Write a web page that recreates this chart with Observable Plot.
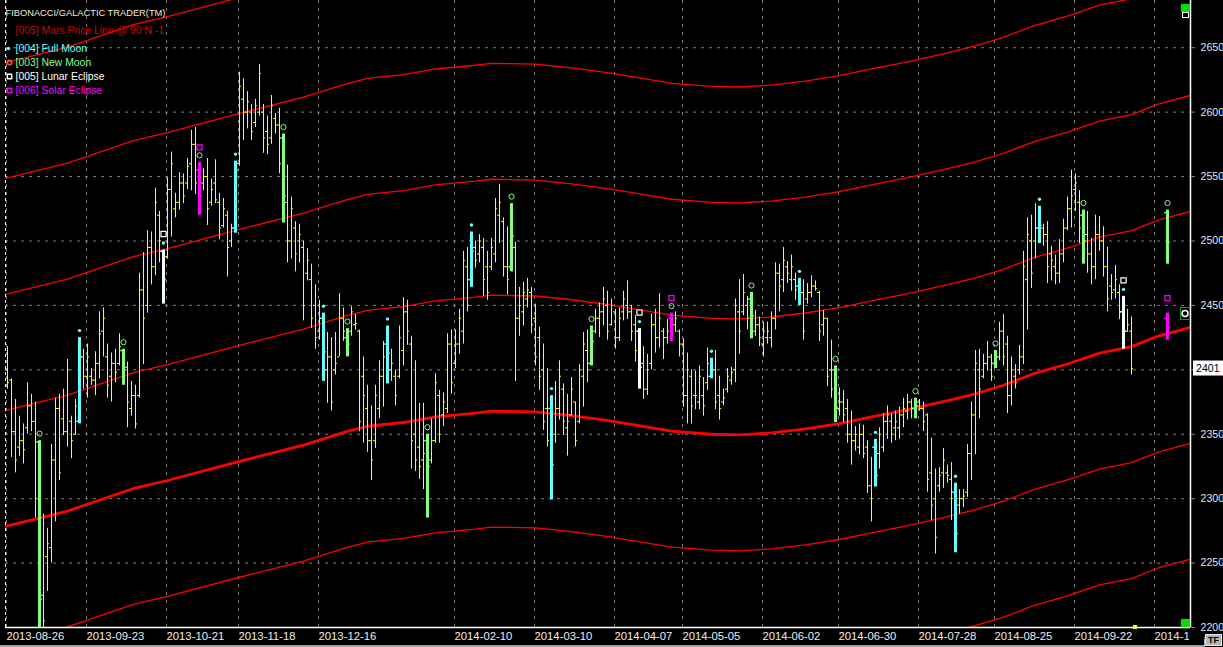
<!DOCTYPE html>
<html><head><meta charset="utf-8">
<script src="https://cdn.jsdelivr.net/npm/d3@7"></script>
<script src="https://cdn.jsdelivr.net/npm/@observablehq/plot@0.6"></script>
<style>
html,body{margin:0;padding:0;background:#000;overflow:hidden}
#wrap{position:relative;width:1223px;height:647px;background:#000}
#tf{position:absolute;left:1205px;top:634px;width:17px;height:12px;background:#b4b4b4;border:1px solid #e8e8e8;box-sizing:border-box;font:bold 9px "Liberation Sans",Arial,sans-serif;color:#000;text-align:center;line-height:10px}
#strip{position:absolute;left:0;top:645px;width:1205px;height:2px;background:#a0a0a0}
</style></head><body><div id="wrap"><div id="strip"></div><div id="tf">TF</div></div>
<script>
// ---- data (daily OHLC, bar index 0 = 2013-08-26) ----
const high = [
2418,2393,2377,2364,2358,2390,2381,2375,2345,2288,
2277,2342,2378,2381,2385,2408,2364,2377,2425,2416,
2420,2401,2414,2445,2448,2420,2413,2416,2428,2416,
2406,2391,2388,2475,2491,2508,2507,2541,2523,2493,
2549,2569,2537,2553,2552,2564,2586,2588,2561,2556,
2564,2548,2563,2537,2533,2523,2513,2562,2631,2626,
2616,2606,2610,2637,2606,2597,2613,2599,2603,2583,
2559,2534,2515,2513,2500,2494,2482,2466,2454,2444,
2429,2425,2429,2459,2448,2432,2449,2443,2431,2410,
2388,2372,2388,2407,2422,2434,2416,2400,2434,2456,
2454,2426,2407,2374,2374,2350,2362,2397,2384,2382,
2428,2431,2431,2447,2492,2495,2507,2500,2505,2502,
2492,2502,2533,2544,2518,2511,2529,2499,2464,2468,
2471,2464,2451,2433,2420,2401,2380,2391,2407,2389,
2381,2394,2375,2404,2429,2431,2434,2447,2452,2464,
2461,2455,2447,2448,2461,2469,2450,2442,2432,2418,
2412,2443,2447,2459,2432,2439,2444,2445,2431,2424,
2413,2400,2399,2403,2394,2417,2409,2415,2395,2385,
2401,2402,2455,2470,2474,2457,2460,2446,2441,2437,
2437,2445,2483,2482,2495,2484,2489,2475,2471,2470,
2467,2473,2469,2461,2446,2440,2423,2403,2386,2384,
2377,2368,2356,2358,2357,2345,2332,2346,2355,2366,
2372,2366,2368,2371,2378,2381,2377,2378,2377,2375,
2366,2347,2323,2324,2339,2326,2328,2312,2307,2307,
2342,2375,2415,2416,2412,2422,2412,2415,2437,2443,
2426,2410,2404,2419,2492,2518,2520,2529,2527,2513,
2515,2496,2489,2501,2517,2534,2555,2552,2539,2524,
2523,2502,2520,2519,2511,2495,2474,2481,2466,2457,
2447,2441];
const low = [
2385,2332,2320,2333,2327,2350,2352,2285,2196,2198,
2228,2250,2282,2314,2349,2340,2331,2349,2358,2385,
2378,2388,2380,2393,2410,2378,2375,2390,2403,2388,
2355,2364,2354,2378,2404,2444,2466,2473,2483,2451,
2486,2503,2518,2524,2529,2540,2539,2536,2520,2539,
2512,2527,2529,2501,2510,2472,2495,2506,2558,2578,
2587,2578,2588,2597,2568,2567,2575,2583,2552,2514,
2483,2486,2476,2483,2438,2469,2432,2416,2423,2391,
2374,2368,2396,2410,2422,2410,2426,2431,2352,2343,
2336,2314,2339,2362,2371,2389,2391,2372,2393,2403,
2419,2323,2321,2315,2307,2285,2327,2343,2343,2356,
2366,2381,2401,2412,2420,2445,2464,2479,2483,2457,
2454,2477,2483,2498,2472,2458,2476,2391,2426,2434,
2448,2428,2403,2384,2353,2340,2299,2343,2361,2349,
2333,2364,2340,2358,2371,2390,2403,2428,2425,2434,
2423,2434,2416,2422,2438,2439,2422,2406,2385,2377,
2380,2400,2413,2417,2408,2420,2422,2429,2410,2371,
2358,2358,2369,2369,2364,2384,2393,2369,2361,2372,
2382,2388,2390,2412,2442,2431,2424,2426,2418,2410,
2420,2417,2431,2445,2460,2467,2461,2454,2450,2423,
2451,2456,2461,2422,2426,2387,2378,2359,2364,2359,
2343,2326,2337,2334,2331,2304,2282,2309,2323,2336,
2346,2343,2345,2346,2355,2361,2362,2362,2368,2352,
2305,2283,2257,2305,2308,2312,2283,2258,2288,2293,
2301,2314,2334,2362,2393,2399,2391,2401,2407,2403,
2366,2372,2385,2396,2404,2431,2463,2486,2498,2496,
2467,2469,2466,2467,2483,2508,2510,2523,2498,2482,
2475,2466,2470,2492,2472,2445,2454,2455,2439,2416,
2429,2396];
const open = [
2400,2392,2352,2340,2345,2355,2372,2360,2344,2225,
2255,2262,2330,2370,2362,2352,2360,2350,2360,2410,
2395,2395,2392,2405,2430,2410,2395,2405,2405,2415,
2402,2370,2380,2380,2462,2450,2495,2480,2520,2492,
2488,2540,2525,2530,2545,2545,2560,2575,2555,2545,
2550,2530,2545,2530,2512,2520,2500,2510,2560,2610,
2600,2600,2592,2600,2600,2585,2580,2595,2590,2580,
2530,2500,2510,2500,2495,2475,2470,2450,2430,2440,
2400,2410,2400,2410,2440,2425,2430,2435,2430,2395,
2370,2345,2345,2370,2395,2420,2400,2395,2395,2415,
2445,2420,2350,2340,2330,2345,2330,2345,2380,2365,
2370,2420,2405,2420,2430,2480,2470,2495,2490,2495,
2480,2480,2490,2520,2515,2480,2480,2495,2440,2445,
2455,2460,2440,2425,2400,2370,2370,2350,2370,2385,
2355,2365,2375,2360,2395,2415,2405,2430,2440,2445,
2450,2435,2445,2425,2445,2450,2445,2435,2430,2405,
2385,2405,2435,2425,2430,2425,2440,2435,2430,2420,
2380,2395,2380,2375,2380,2390,2395,2400,2380,2375,
2385,2392,2400,2445,2445,2450,2455,2430,2435,2420,
2425,2425,2440,2475,2470,2480,2470,2470,2465,2460,
2455,2460,2465,2460,2435,2440,2400,2400,2370,2375,
2370,2350,2345,2340,2350,2340,2310,2340,2335,2340,
2360,2360,2355,2355,2365,2368,2375,2370,2372,2370,
2365,2320,2300,2310,2320,2320,2315,2305,2295,2300,
2305,2335,2365,2400,2395,2405,2410,2405,2410,2430,
2420,2380,2395,2400,2410,2470,2500,2500,2510,2510,
2505,2490,2480,2475,2490,2510,2525,2540,2530,2520,
2505,2490,2480,2505,2500,2480,2465,2462,2460,2445,
2430,2430];
const close = [
2390,2352,2330,2345,2338,2372,2360,2300,2222,2205,
2265,2330,2370,2320,2352,2400,2345,2372,2410,2395,
2410,2392,2405,2428,2440,2388,2405,2398,2418,2400,
2375,2380,2358,2462,2440,2495,2480,2530,2500,2470,
2540,2560,2530,2545,2535,2558,2575,2545,2535,2550,
2525,2540,2532,2510,2525,2495,2510,2555,2620,2600,
2608,2585,2605,2630,2580,2575,2605,2590,2560,2535,
2500,2525,2490,2505,2450,2485,2440,2425,2440,2414,
2410,2375,2405,2440,2430,2420,2445,2436,2360,2380,
2345,2330,2380,2395,2410,2413,2405,2380,2425,2445,
2430,2345,2330,2325,2335,2325,2345,2390,2350,2375,
2420,2390,2420,2440,2485,2450,2492,2485,2500,2470,
2460,2495,2525,2530,2480,2470,2504,2440,2450,2460,
2462,2435,2410,2395,2360,2345,2326,2370,2395,2360,
2360,2385,2345,2400,2420,2400,2422,2440,2445,2455,
2430,2450,2425,2440,2455,2445,2430,2415,2402,2385,
2400,2435,2425,2440,2425,2430,2434,2440,2420,2380,
2400,2372,2380,2395,2372,2405,2400,2375,2370,2378,
2395,2398,2450,2430,2460,2440,2442,2435,2425,2430,
2430,2440,2475,2465,2485,2475,2480,2462,2460,2430,
2460,2465,2463,2430,2440,2395,2385,2371,2375,2365,
2350,2345,2350,2350,2335,2310,2300,2318,2350,2360,
2365,2350,2360,2365,2370,2375,2370,2375,2370,2360,
2315,2295,2270,2318,2330,2318,2300,2273,2300,2302,
2335,2365,2405,2385,2405,2410,2395,2410,2430,2410,
2380,2400,2390,2410,2480,2505,2475,2510,2512,2505,
2480,2485,2475,2490,2510,2525,2535,2545,2510,2500,
2490,2480,2505,2500,2480,2455,2460,2470,2445,2430,
2435,2401];

// astro events (bar indices)
const fullMoon = [18,57,79,95,116,136,176,198,217,237,258];
const newMoon = [8,29,69,85,105,126,146,186,207,227,247,269];
const lunarEclipse = [39,158,279];
const solarEclipse = [48,166];
// projected bars (new moon + solar eclipse, 2014-10-23)
const projNewMoon = {i: 290, open: 2522, high: 2524, low: 2482, close: 2499};
const projSolar = {i: 290, open: 2440, high: 2444, low: 2423, close: 2433};

// Mars price line (base harmonic), sampled at bar indices
const marsIdx = [-0.5,15,31.5,40,58,74,84.5,90,99,107,117,121,132,141,149,157,166,176,183,191,199.5,208,216,224.5,234.5,241.5,249,256.5,265,273,281,287.5,295.75];
const marsBase = [2278.5,2290.4,2307.9,2314.1,2329,2341.6,2351.8,2356.2,2359.1,2363.5,2366.4,2367.9,2367.3,2364.4,2361.1,2357.1,2352.4,2350,2349.5,2351,2354.1,2358.3,2363.5,2368.7,2375.7,2381,2388,2397,2404.5,2413,2418,2426,2433];
const marsOffsets = [-180,-90,0,90,180,270,360];

const dateTickIdx = [0,20,40,58,78,112,132,152,169,189,208,228,247,267,287];
const dateTickLabels = ["2013-08-26","2013-09-23","2013-10-21","2013-11-18","2013-12-16","2014-02-10","2014-03-10","2014-04-07","2014-05-05","2014-06-02","2014-06-30","2014-07-28","2014-08-25","2014-09-22","2014-10"];
const priceTicks = [2200,2250,2300,2350,2400,2450,2500,2550,2600,2650];

const legendTitle = "FIBONACCI/GALACTIC TRADER(TM)";
const legendMars = "[005] Mars Price Line @ 90 N -1";
const legendItems = ["[004] Full Moon","[003] New Moon","[005] Lunar Eclipse","[006] Solar Eclipse"];

// ---- build ----
const COL = {normal:"#ffff00", full:"#66ffff", new:"#80ff80", lunar:"#f4ffff", solar:"#ff00ff"};
const kindOf = i => lunarEclipse.includes(i) ? "lunar" : solarEclipse.includes(i) ? "solar" :
  fullMoon.includes(i) ? "full" : newMoon.includes(i) ? "new" : "normal";
const bars = high.map((h, i) => ({i, high: h, low: low[i], open: open[i], close: close[i], kind: kindOf(i)}));
const normal = bars.filter(d => d.kind === "normal");
const special = bars.filter(d => d.kind !== "normal")
  .concat([{...projNewMoon, kind: "new"}, {...projSolar, kind: "solar"}]);
const colorOf = d => COL[d.kind];
const withDot = bars.filter(d => d.kind === "full" || d.kind === "lunar");
const withCircle = bars.filter(d => d.kind === "new" || d.kind === "solar").concat([projNewMoon]);
const withWSquare = bars.filter(d => d.kind === "lunar");
const withMSquare = bars.filter(d => d.kind === "solar").concat([projSolar]);
const mars = marsIdx.map((i, k) => ({i, p: marsBase[k]}));
const labelMap = new Map(dateTickIdx.map((d, k) => [d, dateTickLabels[k]]));
const lastClose = close[close.length - 1];
const xDomain = [-0.5, 295.75];
const FONT = "'Liberation Sans', Arial, sans-serif";
const GRID = "#7c7c7c";

const marsMarks = marsOffsets.map(off => Plot.line(mars, {
  x: "i", y: d => d.p + off, stroke: "#ff0000",
  strokeWidth: off === 0 ? 2.8 : 1.3, clip: true
}));

const legendText = (text, dx, dy, fill, size) => Plot.text([text], {
  frameAnchor: "top-left", dx, dy, text: d => d, fill, fontSize: size,
  textAnchor: "start", lineAnchor: "middle", fontFamily: FONT
});

const chart = Plot.plot({
  width: 1223, height: 647,
  marginLeft: 5, marginRight: 33, marginTop: 0, marginBottom: 20,
  x: {domain: xDomain},
  y: {domain: [2200, 2686.65]},
  color: {type: "identity"},
  style: {background: "#000", color: "#fff", fontFamily: FONT, fontSize: "11px"},
  marks: [
    Plot.ruleY(priceTicks.slice(1), {stroke: GRID, strokeDasharray: "3,5"}),
    Plot.ruleX(dateTickIdx, {dx: -1, stroke: GRID, strokeDasharray: "3,5"}),
    ...marsMarks,
    // normal OHLC bars
    Plot.ruleX(normal, {x: "i", y1: "low", y2: "high", stroke: COL.normal, strokeWidth: 1, clip: true}),
    Plot.ruleY(normal, {y: "open", x1: d => d.i - 0.5, x2: "i", stroke: COL.normal, strokeWidth: 1, clip: true}),
    Plot.ruleY(normal, {y: "close", x1: "i", x2: d => d.i + 0.5, stroke: COL.normal, strokeWidth: 1, clip: true}),
    // astro-event bars
    Plot.ruleX(special, {x: "i", y1: "low", y2: "high", stroke: colorOf, strokeWidth: 3, clip: true}),
    Plot.ruleY(special, {y: "open", x1: d => d.i - 0.7, x2: "i", stroke: colorOf, strokeWidth: 1.5, clip: true}),
    Plot.ruleY(special, {y: "close", x1: "i", x2: d => d.i + 0.7, stroke: colorOf, strokeWidth: 1.5, clip: true}),
    // event markers
    Plot.dot(withDot, {x: "i", y: "high", dy: -7, r: 1.7, fill: COL.full, clip: true}),
    Plot.dot(withCircle, {x: "i", y: "high", dy: -7, r: 2.6, stroke: COL.new, strokeWidth: 1, fill: "none", clip: true}),
    Plot.dot(withWSquare, {x: "i", y: "high", dy: -16, r: 2.9, symbol: "square", stroke: "#fff", strokeWidth: 1.2, fill: "none", clip: true}),
    Plot.dot(withMSquare, {x: "i", y: "high", dy: -15, r: 2.9, symbol: "square", stroke: COL.solar, strokeWidth: 1.2, fill: "none", clip: true}),
    // frame lines
    Plot.ruleX([xDomain[0]], {stroke: "#fff", strokeDasharray: "3,3"}),
    Plot.ruleX([xDomain[1]], {stroke: "#fff", strokeWidth: 1.5}),
    Plot.ruleY([priceTicks[0]], {stroke: "#fff", strokeWidth: 1.5}),
    // axes (the label hidden under the last-price box is left out)
    Plot.axisY({anchor: "right", ticks: priceTicks, tickSize: 4, tickPadding: 6,
      tickFormat: d => Math.abs(d - lastClose) < 8 ? "" : String(d),
      stroke: "#8a8a8a", fill: "#dde6f5", fontSize: 10.6, fontFamily: FONT}),
    Plot.axisX({anchor: "bottom", ticks: dateTickIdx, tickSize: 0, tickPadding: 4, tickFormat: d => labelMap.get(d),
      textAnchor: "start", dx: -1, fill: "#ececec", fontSize: 11.3, fontFamily: FONT}),
    // legend (inside plot, top-left)
    legendText(legendTitle, 0, 12.5, "#f0ead8", 9.3),
    legendText(legendMars, 10, 30.5, "#d40000", 10.4),
    legendText(legendItems[0], 10, 48, COL.full, 10.4),
    legendText(legendItems[1], 10, 62, COL.new, 10.4),
    legendText(legendItems[2], 10, 76, "#ffffff", 10.4),
    legendText(legendItems[3], 10, 90, COL.solar, 10.4),
    Plot.dot([0], {frameAnchor: "top-left", dx: 3, dy: 48, r: 1.7, fill: COL.full}),
    Plot.dot([0], {frameAnchor: "top-left", dx: 4, dy: 62, r: 2.3, stroke: "#ff5030", fill: "none"}),
    Plot.dot([0], {frameAnchor: "top-left", dx: 4, dy: 76, r: 2.4, symbol: "square", stroke: "#fff", fill: "none"}),
    Plot.dot([0], {frameAnchor: "top-left", dx: 4, dy: 90, r: 2.4, symbol: "square", stroke: COL.solar, fill: "none"})
  ]
});
document.getElementById("wrap").appendChild(chart);

// ---- chart-widget extras drawn with the plot's own scales ----
const svg = d3.select(chart);
const xs = chart.scale("x"), ys = chart.scale("y");
const fx1 = xs.range[1];
const fyB = ys.range[0], fyT = ys.range[1];
const defs = svg.append("defs");
defs.append("clipPath").attr("id", "xclip").append("rect")
  .attr("x", 0).attr("y", 0).attr("width", fx1).attr("height", 647);
svg.selectAll('g[aria-label="x-axis tick label"]').attr("clip-path", "url(#xclip)");

const yl = ys.apply(lastClose);
svg.append("rect").attr("x", fx1 + 3).attr("y", yl - 7.5).attr("width", 33).attr("height", 15).attr("fill", "#fff");
svg.append("text").attr("x", fx1 + 6).attr("y", yl).attr("dy", "0.35em").attr("fill", "#000")
  .attr("font-family", FONT).attr("font-size", 10.6).attr("text-anchor", "start").text(String(lastClose));

// top-right & bottom-right green handles, mid-right ring marker
svg.append("rect").attr("x", fx1 - 9).attr("y", fyT + 4).attr("width", 9).attr("height", 8).attr("fill", "#00e000");
svg.append("rect").attr("x", fx1 - 7.5).attr("y", fyT + 12.5).attr("width", 6).attr("height", 5).attr("fill", "#000").attr("stroke", "#fff");
svg.append("rect").attr("x", fx1 - 9).attr("y", fyB - 8).attr("width", 9).attr("height", 8).attr("fill", "#00e000");
const ym = (fyB + fyT) / 2;
svg.append("rect").attr("x", fx1 - 9.5).attr("y", ym - 6).attr("width", 9).attr("height", 12).attr("fill", "#000").attr("stroke", "#1a8a1a");
svg.append("circle").attr("cx", fx1 - 5).attr("cy", ym).attr("r", 3).attr("fill", "none").attr("stroke", "#fff").attr("stroke-width", 1.5);
// current-bar marker on the time axis
const xNext = xs.apply(bars.length);
svg.append("rect").attr("x", xNext - 2).attr("y", fyB - 2).attr("width", 4).attr("height", 4).attr("fill", "#ffff00");
</script></body></html>
